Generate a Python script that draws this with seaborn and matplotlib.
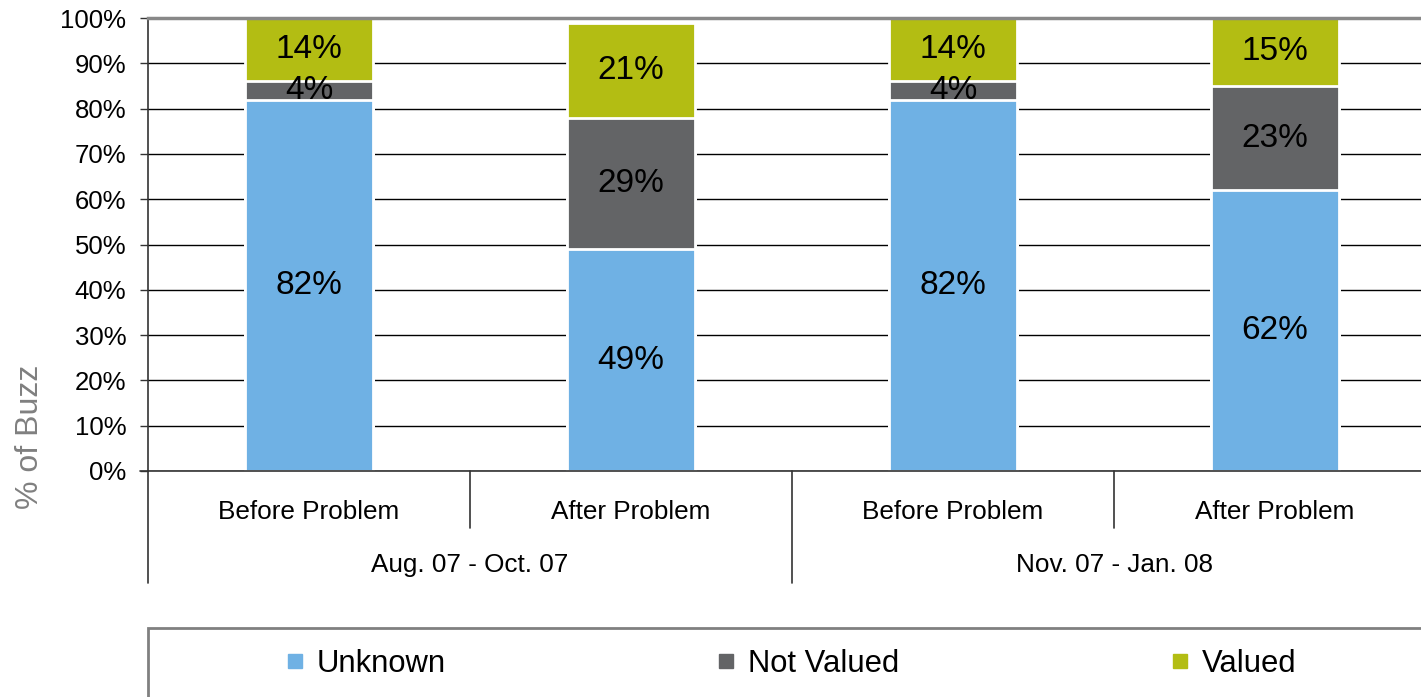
import matplotlib
matplotlib.use("Agg")
import matplotlib.pyplot as plt
from matplotlib.lines import Line2D
from matplotlib.patches import Rectangle
import pandas as pd
import seaborn as sns

# Data
periods = ["Aug. 07 - Oct. 07", "Aug. 07 - Oct. 07", "Nov. 07 - Jan. 08", "Nov. 07 - Jan. 08"]
phases = ["Before Problem", "After Problem", "Before Problem", "After Problem"]
unknown = [82, 49, 82, 62]
not_valued = [4, 29, 4, 23]
valued = [14, 21, 14, 15]
series_names = ["Unknown", "Not Valued", "Valued"]
series_colors = ["#6FB1E4", "#636466", "#B3BD13"]
y_ticks = [0, 10, 20, 30, 40, 50, 60, 70, 80, 90, 100]

sns.set_theme(style="white")
plt.rcParams["font.family"] = ["Liberation Sans", "DejaVu Sans"]

W, H = 1421, 697
fig = plt.figure(figsize=(W / 100, H / 100), dpi=100)
# plot area in pixels: left 148, top 18, bottom 471, category pitch 322
ax = fig.add_axes([148 / W, 1 - 471 / H, 4 * 322 / W, 453 / H])

keys = [f"{p}|{ph}|{i}" for i, (p, ph) in enumerate(zip(periods, phases))]
df = pd.DataFrame({
    "key": keys,
    "Unknown": unknown,
    "Not Valued": not_valued,
    "Valued": valued,
})
df["c1"] = df["Unknown"]
df["c2"] = df["c1"] + df["Not Valued"]
df["c3"] = df["c2"] + df["Valued"]

# stacked bars: draw cumulative totals from the top segment down
for col, color in zip(["c3", "c2", "c1"], series_colors[::-1]):
    sns.barplot(data=df, x="key", y=col, order=keys, color=color,
                width=0.4, edgecolor="white", linewidth=2, ax=ax,
                saturation=1, errorbar=None)

# segment labels
for i in range(len(keys)):
    base = 0
    for val in (unknown[i], not_valued[i], valued[i]):
        ax.text(i, base + val / 2, f"{val}%", ha="center", va="center",
                fontsize=24, color="black", zorder=5)
        base += val

ax.set_xlim(-0.5, 3.5)
ax.set_ylim(0, 100)
ax.set_yticks(y_ticks)
ax.set_yticklabels([f"{t}%" for t in y_ticks], fontsize=18.5, color="black")
ax.set_xticks(range(len(keys)))
ax.set_xticklabels(phases, fontsize=18.8, color="black")
ax.tick_params(axis="x", length=0, pad=21)
ax.tick_params(axis="y", length=6, width=1, color="#333333", left=True, pad=9.5)
ax.set_xlabel("")
ax.set_ylabel("")

# gridlines
ax.set_axisbelow(True)
ax.yaxis.grid(True, color="black", linewidth=1)
ax.xaxis.grid(False)

ax.spines["right"].set_visible(False)
ax.spines["top"].set_color("#888888")
ax.spines["top"].set_linewidth(2.5)
ax.spines["left"].set_color("#333333")
ax.spines["left"].set_linewidth(1.2)
ax.spines["bottom"].set_color("#333333")
ax.spines["bottom"].set_linewidth(1.2)

# multi-level category axis separators
trans = ax.get_xaxis_transform()
inner_bottom = -57 / 453
outer_bottom = -112 / 453
for xb in (-0.5, 1.5):
    ax.plot([xb, xb], [0, outer_bottom], transform=trans, color="#333333",
            lw=1.2, clip_on=False)
for xb in (0.5, 2.5):
    ax.plot([xb, xb], [0, inner_bottom], transform=trans, color="#333333",
            lw=1.2, clip_on=False)
ax.plot([-0.5 - 8 / 322, -0.5], [0, 0], transform=trans, color="#333333",
        lw=1.2, clip_on=False)

for center, label in ((0.5, periods[0]), (2.5, periods[2])):
    ax.text(center, -94 / 453, label, transform=trans, ha="center",
            va="center", fontsize=18.8, color="black")

# y axis title
fig.text(30 / W, 1 - 437 / H, "% of Buzz", rotation=90, ha="center",
         va="center", fontsize=23, color="#808080")

# legend box
fig.add_artist(Rectangle((148 / W, -0.05), 1.0, (1 - 628 / H) + 0.05,
                         transform=fig.transFigure, fill=False,
                         edgecolor="#808080", linewidth=2))
handles = [Line2D([], [], marker="s", linestyle="none", markersize=10,
                  markerfacecolor=c, markeredgecolor=c) for c in series_colors]
fig.legend(handles, series_names, loc="center left",
           bbox_to_anchor=(283 / W, 1 - 664 / H), ncol=3, frameon=False,
           fontsize=22.3, labelcolor="black", handletextpad=0.3,
           columnspacing=8.65, handlelength=0.8, borderpad=0,
           borderaxespad=0)

fig.savefig("out.png", dpi=100)
